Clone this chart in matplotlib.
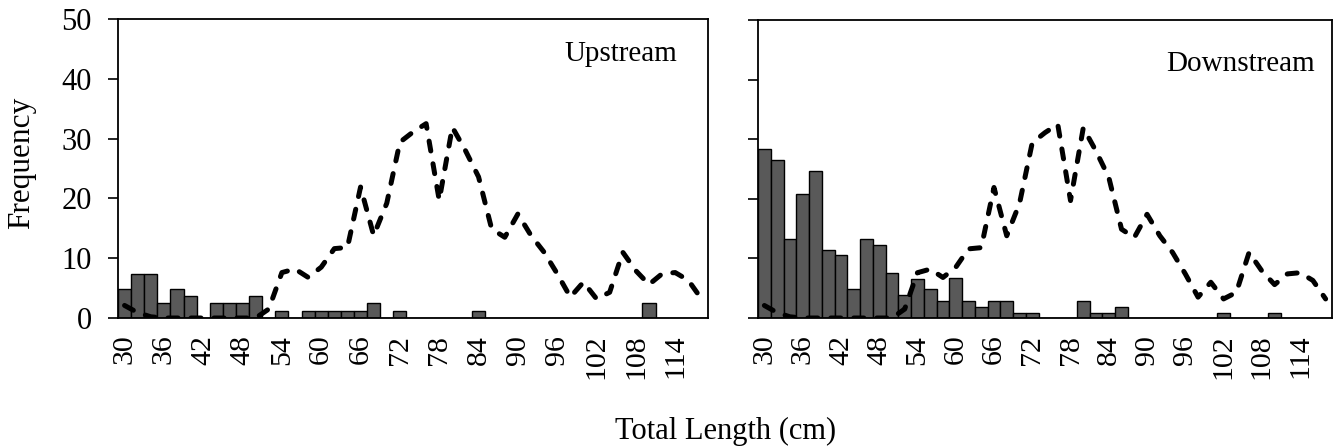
import matplotlib
matplotlib.use("Agg")
import matplotlib.pyplot as plt
import numpy as np

plt.rcParams['font.family'] = ['Liberation Serif', 'DejaVu Serif']

lengths = list(range(30, 120, 2))  # 30..118 cm bins
tick_labels = [str(v) for v in range(30, 120, 6)]

upstream = [4.9, 7.4, 7.4, 2.5, 4.9, 3.7, 0, 2.5, 2.5, 2.5,
            3.7, 0, 1.2, 0, 1.2, 1.2, 1.2, 1.2, 1.2, 2.5,
            0, 1.2, 0, 0, 0, 0, 0, 1.2, 0, 0,
            0, 0, 0, 0, 0, 0, 0, 0, 0, 0,
            2.5, 0, 0, 0, 0]

downstream = [28.4, 26.5, 13.3, 20.8, 24.6, 11.4, 10.5, 4.8, 13.3, 12.3,
              7.6, 3.8, 6.6, 4.8, 2.8, 6.7, 2.8, 1.9, 2.8, 2.8,
              0.9, 0.9, 0, 0, 0, 2.8, 0.9, 0.9, 1.9, 0,
              0, 0, 0, 0, 0, 0, 0.9, 0, 0, 0,
              0.9, 0, 0, 0, 0]

reference = [2.1, 0.9, 0.2, 0, 0, 0, 0, 0, 0, 0,
             0, 1.5, 7.6, 8.2, 6.8, 8.5, 11.6, 11.8, 21.9, 13.8,
             19.2, 29.4, 31.1, 32.5, 19.7, 31.9, 28.0, 23.6, 14.9, 13.5,
             17.4, 13.8, 11.0, 7.4, 3.5, 6.0, 3.2, 4.3, 11.0, 7.9,
             5.6, 7.4, 7.6, 6.3, 3.2]

panels = [("Upstream", upstream), ("Downstream", downstream)]

fig = plt.figure(figsize=(13.36, 4.48), dpi=100)
ax_rects = [[118/1336, 1-318/448, 590/1336, 299/448],
            [758/1336, 1-318/448, 574/1336, 298/448]]
label_pos = [(0.947, 0.925), (0.970, 0.895)]

x = np.arange(len(lengths))
for k, ((name, vals), rect) in enumerate(zip(panels, ax_rects)):
    ax = fig.add_axes(rect)
    ax.bar(x, vals, width=1.0, color='#595959', edgecolor='black', linewidth=1.0, zorder=2)
    ax.plot(x, reference, color='black', lw=3.6, linestyle=(0, (2.0, 2.6)),
            dash_capstyle='round', solid_capstyle='round', zorder=3)
    ax.set_xlim(-0.5, len(lengths) - 0.5)
    ax.set_ylim(0, 50)
    ax.set_yticks([0, 10, 20, 30, 40, 50])
    ax.set_xticks(x[::3])
    ax.set_xticklabels(tick_labels, rotation=90, fontsize=21.5)
    ax.tick_params(axis='x', length=0, pad=12)
    ax.tick_params(axis='y', length=7, width=1.2, direction='out', pad=12, labelsize=22)
    if k == 1:
        ax.set_yticklabels([])
    for s in ax.spines.values():
        s.set_linewidth(1.3)
        s.set_color('black')
    ax.text(label_pos[k][0], label_pos[k][1], name, transform=ax.transAxes,
            ha='right', va='top', fontsize=21)

fig.text(0.0165, 0.636, "Frequency", rotation=90, ha='center', va='center', fontsize=22.5)
fig.text(0.543, 0.038, "Total Length (cm)", ha='center', va='center', fontsize=22)

fig.savefig("out.png", dpi=100)
